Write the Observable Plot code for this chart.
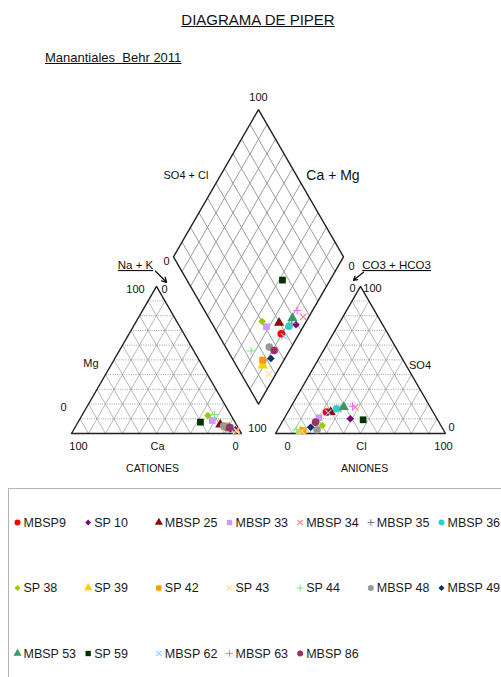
<!DOCTYPE html>
<html>
<head>
<meta charset="utf-8">
<script src="https://cdn.jsdelivr.net/npm/d3@7"></script>
<script src="https://cdn.jsdelivr.net/npm/@observablehq/plot@0.6"></script>
<style>
  html, body { margin: 0; padding: 0; background: #fff; }
  body { width: 501px; height: 677px; position: relative; overflow: hidden;
         font-family: "Liberation Sans", Arial, sans-serif; color: #111; }
  #title { position: absolute; left: 0; top: 11px; width: 516px; text-align: center;
           font-size: 15px; text-decoration: underline; }
  #subtitle { position: absolute; left: 45px; top: 50px; font-size: 13px;
              text-decoration: underline; white-space: pre; }
  #chart { position: absolute; left: 0; top: 80px; }
  #legendbox { position: absolute; left: 8px; top: 488px; width: 600px; height: 300px;
               border: 1px solid #b5b5b5; box-sizing: border-box; }
  #legend { position: absolute; left: 0; top: 488px; }
</style>
</head>
<body>
<div id="title">DIAGRAMA DE PIPER</div>
<div id="subtitle">Manantiales  Behr 2011</div>
<div id="chart"></div>
<div id="legendbox"></div>
<div id="legend"></div>
<script>
// ---------- data ----------
const samples = ["MBSP9","SP 10","MBSP 25","MBSP 33","MBSP 34","MBSP 35","MBSP 36",
                 "SP 38","SP 39","SP 42","SP 43","SP 44","MBSP 48","MBSP 49",
                 "MBSP 53","SP 59","MBSP 62","MBSP 63","MBSP 86"];
const symbols = ["circle","diamond2","triangle","square","times","plus","circle",
                 "diamond2","triangle","square","times","plus","circle","diamond2",
                 "triangle","square","times","plus","circle"];
const colors  = ["#ff0000","#800080","#8b0a0a","#cc99ff","#ff8080","#808080","#33cccc",
                 "#99cc00","#ffcc00","#ff9900","#ffdd88","#77ee77","#999999","#003366",
                 "#339966","#003300","#99ccff","#ff66ff","#993366"];
// cations (% meq)
const ca  = [6.5, 2.4, 9.5, 12.8, 1.8, 4.4, 4.5, 13.7, 6.6, 7.5, 2.2, 9.4, 8.0, 5.2, 5.2, 20.3, 5.0, 5.0, 5.0];
const mg  = [4.0, 2.5, 6.0,  8.8, 1.5, 3.5, 4.0, 12.2, 4.0, 5.0, 2.0, 12.9, 5.0, 3.0, 4.0, 7.7, 3.0, 4.0, 4.0];
// anions (% meq)
const so4 = [14.5, 10.0, 14.5, 10.7, 17.9, 17.0, 16.8, 5.4, 1.6, 2.0, 1.5, 2.5, 2.5, 4.3, 17.9, 9.3, 14.0, 18.5, 7.7];
const cl  = [22.8, 39.0, 25.2, 20.2, 38.0, 30.0, 27.5, 24.8, 14.0, 15.3, 14.8, 11.2, 23.2, 18.5, 31.2, 46.9, 24.0, 36.0, 19.7];
const gridTicks = [10, 20, 30, 40, 50, 60, 70, 80, 90];

// ---------- geometry ----------
const H = Math.sqrt(3) / 2, GAP = 20, BY = GAP / 2 * Math.sqrt(3), PXU = 1.7;
const L = (c, m, n) => [n + m / 2, m * H];                 // cation triangle
const R = (s, c) => [100 + GAP + c + s / 2, s * H];       // anion triangle
const D = (cm, sc) => [100 + GAP / 2 + (sc - cm) / 2, BY + H * (sc + cm)]; // diamond
const off = (p, dx, dy) => [p[0] + dx / PXU, p[1] - dy / PXU];
const isLine = s => s === "times" || s === "plus";

const rows = samples.map((name, i) => {
  const nak = 100 - ca[i] - mg[i];
  return {name, i, symbol: symbols[i], color: colors[i],
    pts: [L(ca[i], mg[i], nak), R(so4[i], cl[i]), D(ca[i] + mg[i], so4[i] + cl[i])]};
});
const points = rows.flatMap(r => r.pts.map(p => ({x: p[0], y: p[1], symbol: r.symbol, color: r.color, i: r.i})));

const seg = (a, b, kind) => ({x1: a[0], y1: a[1], x2: b[0], y2: b[1], kind});
const grid = [];
for (const v of gridTicks) {
  grid.push(seg(L(100 - v, v, 0), L(0, v, 100 - v), "h"));
  grid.push(seg(L(v, 100 - v, 0), L(v, 0, 100 - v), "d"));
  grid.push(seg(L(100 - v, 0, v), L(0, 100 - v, v), "d"));
  grid.push(seg(R(v, 0), R(v, 100 - v), "h"));
  grid.push(seg(R(0, v), R(100 - v, v), "d"));
  grid.push(seg(R(0, 100 - v), R(100 - v, 0), "d"));
  grid.push(seg(D(v, 0), D(v, 100), "q"));
  grid.push(seg(D(0, v), D(100, v), "q"));
}
const outline = [];
const addPoly = (pts, z) => pts.concat([pts[0]]).forEach(p => outline.push({x: p[0], y: p[1], z}));
addPoly([L(100, 0, 0), L(0, 0, 100), L(0, 100, 0)], "L");
addPoly([R(0, 0), R(0, 100), R(100, 0)], "R");
addPoly([D(0, 0), D(100, 0), D(100, 100), D(0, 100)], "D");

// anchors for labels
const LTa = L(0, 100, 0), LTl = L(100, 0, 0), LTr = L(0, 0, 100), LTm = L(50, 0, 50), LTe = L(50, 50, 0);
const RTa = R(100, 0), RTl = R(0, 0), RTr = R(0, 100), RTm = R(0, 50), RTe = R(50, 50);
const Dt = D(100, 100), Dl = D(100, 0), Dr = D(0, 100), Db = D(0, 0), Dul = D(100, 50), Dur = D(50, 100);

const lab = (p, dx, dy, text, size = 11) => ({x: p[0], y: p[1], dx, dy, text, size});
const labels = [
  lab(Dt, 0, -12, "100"),
  lab(Dul, -30, -8, "SO4 + Cl"),
  lab(Dur, 32, -8, "Ca + Mg", 14),
  lab(Dl, -7, 5, "0"),
  lab(Dr, 8, 10, "0"),
  lab(LTa, -21, -21, "Na + K", 11.5),
  lab(LTa, -21, 3, "100"),
  lab(LTa, 8, 3, "0"),
  lab(LTe, -23, 4, "Mg"),
  lab(LTl, -8, -26, "0"),
  lab(LTl, 7, 13, "100"),
  lab(LTm, 1, 13, "Ca"),
  lab(LTr, -6, 13, "0"),
  lab(Db, -1, 24, "100"),
  lab(LTm, -4, 35, "CATIONES", 10.5),
  lab(RTa, -8, 2, "0"),
  lab(RTa, 12, 2, "100"),
  lab(RTa, 36, -21, "CO3 + HCO3", 11.5),
  lab(RTe, 17, 6, "SO4"),
  lab(RTr, 6, -6, "0"),
  lab(RTl, 12, 13, "0"),
  lab(RTm, 1, 13, "Cl"),
  lab(RTr, -2, 13, "100"),
  lab(RTm, 4, 35, "ANIONES", 10.5)
];
const underlined = ["Na + K", "CO3 + HCO3"];
const arrows = [
  {a: off(LTa, -1, -15), b: off(LTa, 10, -4)},
  {a: off(RTa, 3, -14), b: off(RTa, -7, -6)}
].map(d => ({x1: d.a[0], y1: d.a[1], x2: d.b[0], y2: d.b[1]}));

const font = "Liberation Sans, Arial, sans-serif";
const labelMarks = labels.map(d => Plot.text([d], {x: "x", y: "y", text: "text",
  dx: d.dx, dy: d.dy, fontSize: d.size, fill: "#111"}));

// one dot mark per sample so that drawing order follows the series order
const dotMarks = rows.map(r => {
  const data = points.filter(p => p.i === r.i);
  return isLine(r.symbol)
    ? Plot.dot(data, {x: "x", y: "y", symbol: r.symbol, stroke: r.color,
        r: r.symbol === "plus" ? 2.7 : 3.0, strokeWidth: 1.1})
    : Plot.dot(data, {x: "x", y: "y", symbol: r.symbol, fill: r.color, stroke: "none",
        r: r.symbol === "diamond2" ? 3.4 : 3.8});
});

const main = Plot.plot({
  width: 501, height: 400, margin: 0,
  style: {fontFamily: font, background: "transparent"},
  x: {domain: [0, 220], range: [71, 71 + 220 * PXU], axis: null},
  y: {domain: [0, 100], range: [353, 353 - 100 * PXU], axis: null},
  marks: [
    Plot.link(grid.filter(d => d.kind === "d"), {x1: "x1", y1: "y1", x2: "x2", y2: "y2",
      stroke: "#9a9a9a", strokeWidth: 0.7}),
    Plot.link(grid.filter(d => d.kind === "h"), {x1: "x1", y1: "y1", x2: "x2", y2: "y2",
      stroke: "#8a8a8a", strokeWidth: 0.8, strokeDasharray: "1,1.3"}),
    Plot.link(grid.filter(d => d.kind === "q"), {x1: "x1", y1: "y1", x2: "x2", y2: "y2",
      stroke: "#858585", strokeWidth: 0.8}),
    Plot.line(outline, {x: "x", y: "y", z: "z", stroke: "#222", strokeWidth: 1.4,
      strokeLinejoin: "miter"}),
    Plot.arrow(arrows, {x1: "x1", y1: "y1", x2: "x2", y2: "y2", stroke: "#111",
      strokeWidth: 1.3, headLength: 7}),
    ...labelMarks,
    ...dotMarks
  ]
});
d3.select(main).selectAll("text")
  .filter(function () { return underlined.includes(this.textContent); })
  .attr("text-decoration", "underline");
document.getElementById("chart").appendChild(main);

// ---------- legend ----------
const legendRows = samples.map((name, i) => ({name, col: i % 7, row: Math.floor(i / 7),
  symbol: symbols[i], color: colors[i]}));
const legMarks = legendRows.map(d => isLine(d.symbol)
  ? Plot.dot([d], {x: "col", y: "row", symbol: d.symbol, stroke: d.color,
      r: d.symbol === "plus" ? 2.3 : 2.6, strokeWidth: 1.1})
  : Plot.dot([d], {x: "col", y: "row", symbol: d.symbol, fill: d.color, stroke: "none",
      r: d.symbol === "diamond2" ? 2.7 : 3.0}));
const legend = Plot.plot({
  width: 501, height: 189, margin: 0,
  style: {fontFamily: font, background: "transparent"},
  x: {domain: [0, 6], range: [17, 441], axis: null},
  y: {domain: [0, 2], range: [34, 165], axis: null},
  marks: [
    ...legMarks,
    Plot.text(legendRows, {x: "col", y: "row", text: "name", dx: 6, textAnchor: "start",
      fontSize: 12.5, fill: "#1a1a1a"})
  ]
});
document.getElementById("legend").appendChild(legend);
</script>
</body>
</html>
